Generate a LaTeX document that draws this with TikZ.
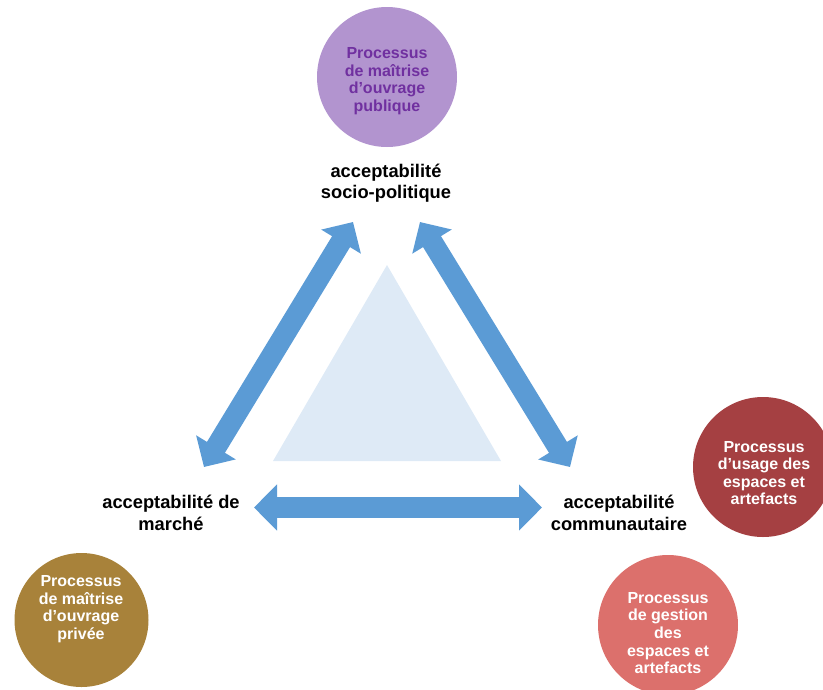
\documentclass[tikz,border=0pt]{standalone}
\usepackage{fontspec}
\setmainfont{Liberation Sans}
\usetikzlibrary{arrows.meta}
\definecolor{arrowblue}{HTML}{5B9BD5}
\definecolor{tribg}{HTML}{DEEAF6}
\definecolor{purplefill}{HTML}{B294CF}
\definecolor{purpletext}{HTML}{7030A0}
\definecolor{darkred}{HTML}{A54042}
\definecolor{salmon}{HTML}{DC706C}
\definecolor{gold}{HTML}{A8823A}
\tikzset{
  proc/.style={circle, minimum size=140pt, inner sep=0pt},
  proctext/.style={align=center, font=\fontsize{16}{17.6}\selectfont\bfseries},
  acclabel/.style={align=center, font=\fontsize{18.3}{21.5}\selectfont\bfseries, text=black},
  blockarrow/.style={arrowblue, line width=21pt,
    {Triangle[length=23pt,width=45pt]}-{Triangle[length=23pt,width=45pt]}}
}
\begin{document}
\begin{tikzpicture}[x=1pt,y=-1pt]
\useasboundingbox (0,0) rectangle (823,689);
\begin{scope}
\clip (0,0) rectangle (823,689);
% central triangle
\fill[tribg] (387,265) -- (501,461) -- (273,461) -- cycle;
% circles
\node[proc, fill=purplefill] (pub) at (387,77) {};
\node[proctext, text=purpletext] (pubt) at (387,81) {Processus\\de maîtrise\\d’ouvrage\\publique};
\node[proc, fill=darkred] (usage) at (763,467) {};
\node[proctext, text=white] (usaget) at (764,473) {Processus\\d’usage des\\espaces et\\artefacts};
\node[proc, fill=salmon] (gest) at (668,625) {};
\node[proctext, text=white] (gestt) at (668,633) {Processus\\de gestion\\des\\espaces et\\artefacts};
\node[proc, fill=gold, minimum size=134pt] (priv) at (81.5,620) {};
\node[proctext, text=white] (privt) at (81,609) {Processus\\de maîtrise\\d’ouvrage\\privée};
\end{scope}
% labels
\node[acclabel] (soc) at (386,183) {acceptabilité\\socio-politique};
\node[acclabel] (mar) at (171,513) {acceptabilité de\\marché};
\node[acclabel] (com) at (619,513) {acceptabilité\\communautaire};
% arrow end points
\coordinate (lb) at (204,467);
\coordinate (lt) at (353,222);
\coordinate (rt) at (420,222);
\coordinate (rb) at (570,467);
\coordinate (hl) at (254,507.5);
\coordinate (hr) at (542,507.5);
\draw[blockarrow] (lb) -- (lt);
\draw[blockarrow] (rt) -- (rb);
\draw[blockarrow] (hl) -- (hr);
\end{tikzpicture}
\end{document}
